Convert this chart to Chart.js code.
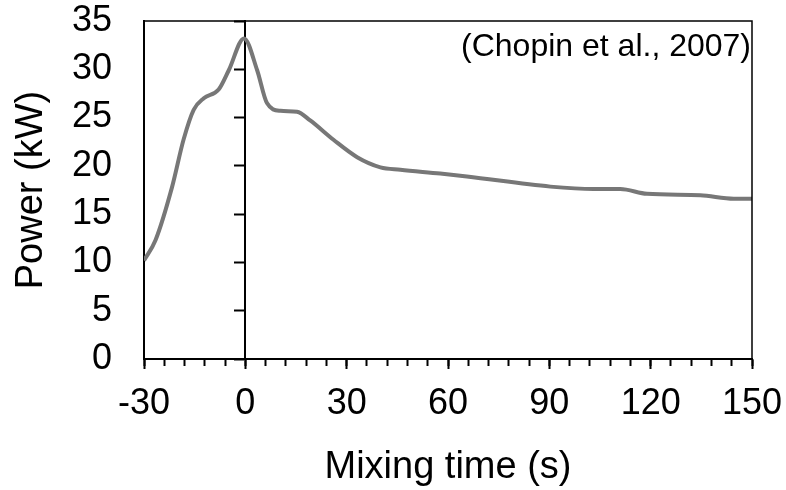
<!DOCTYPE html>
<html>
<head>
<meta charset="utf-8">
<script src="https://cdn.jsdelivr.net/npm/chart.js@4/dist/chart.umd.min.js"></script>
<style>
  body { margin: 0; background: #fff; }
  #wrap { width: 786px; height: 490px; }
</style>
</head>
<body>
<div id="wrap"><canvas id="powerChart"></canvas></div>
<script>
// 混合時間(s)と動力(kW)  図から読み取った値
var mixTime = [-30, -26.6, -21.7, -18.3, -15.3, -12.3, -7.9, -4.9, -0.4, 3.5, 6.4, 10.4, 15.3, 19.2, 26.1, 33.1, 40, 45.9, 57.7, 65.6, 90.3, 103.1, 111, 118.9, 134.7, 144.6, 150];
var power = [10.2, 12.3, 17.8, 22.7, 25.8, 27.0, 27.9, 29.9, 33.2, 29.9, 26.5, 25.7, 25.6, 24.7, 22.7, 20.9, 19.85, 19.6, 19.2, 18.9, 17.85, 17.6, 17.6, 17.1, 16.95, 16.6, 16.6];

// 軸の設定
var xMin = -30, xMax = 150, xStep = 30, xMinorStep = 6;
var yMin = 0, yMax = 35, yStep = 5;
var xTitle = "Mixing time (s)";
var yTitle = "Power (kW)";
var citation = "(Chopin et al., 2007)";

var fontName = "'Liberation Sans', Arial, sans-serif";
Chart.defaults.font.family = fontName;
Chart.defaults.color = "#000";

var points = [];
for (var i = 0; i < mixTime.length; i++) {
    points.push({x: mixTime[i], y: power[i]});
}

// 上と右の枠線、引用の文字
var framePlugin = {
    id: "frame",
    afterDraw: function(chart) {
        var ctx = chart.ctx;
        var a = chart.chartArea;
        ctx.save();
        ctx.strokeStyle = "#000";
        ctx.lineWidth = 1.5;
        ctx.beginPath();
        ctx.moveTo(a.left, a.top);
        ctx.lineTo(a.right, a.top);
        ctx.lineTo(a.right, a.bottom);
        ctx.stroke();
        ctx.fillStyle = "#000";
        ctx.font = "32px " + fontName;
        ctx.textAlign = "right";
        ctx.textBaseline = "alphabetic";
        ctx.fillText(citation, a.right - 1, a.top + 35);
        ctx.restore();
    }
};

var ctx = document.getElementById("powerChart");
var chart = new Chart(ctx, {
    type: "line",
    data: {
        datasets: [{
            data: points,
            xAxisID: "x",
            yAxisID: "y",
            borderColor: "#777777",
            borderWidth: 4,
            pointRadius: 0,
            fill: false,
            cubicInterpolationMode: "monotone"
        }]
    },
    options: {
        responsive: true,
        maintainAspectRatio: false,
        animation: false,
        layout: { padding: { top: 21, right: 34, left: 0, bottom: 0 } },
        plugins: {
            legend: { display: false },
            tooltip: { enabled: false }
        },
        scales: {
            x: {
                type: "linear",
                position: "bottom",
                min: xMin, max: xMax,
                afterFit: function(s) { s.height = 131; s.paddingLeft = 0; s.paddingRight = 0; },
                ticks: { stepSize: xStep, font: { size: 36 }, padding: 13, maxRotation: 0, autoSkip: false },
                grid: { drawOnChartArea: false, tickLength: 10, tickColor: "#000", tickWidth: 2 },
                border: { display: true, color: "#000", width: 2 },
                title: { display: true, text: xTitle, font: { size: 38 }, padding: 0 }
            },
            y: {
                type: "linear",
                position: "left",
                min: yMin, max: yMax,
                afterFit: function(s) { s.width = 144; s.paddingTop = 0; s.paddingBottom = 0; },
                ticks: { stepSize: yStep, font: { size: 36 }, padding: 32, autoSkip: false },
                grid: { drawOnChartArea: false, drawTicks: false },
                border: { display: true, color: "#000", width: 2 },
                title: { display: true, text: yTitle, font: { size: 38 }, padding: { top: 9, bottom: 0 } }
            },
            // 0秒の縦軸（目盛りのみ）
            y2: {
                type: "linear",
                position: { x: 0 },
                min: yMin, max: yMax,
                afterFit: function(s) { s.paddingTop = 0; s.paddingBottom = 0; },
                ticks: { stepSize: yStep, display: false, autoSkip: false },
                grid: { drawOnChartArea: false, tickLength: 10, tickColor: "#000", tickWidth: 2 },
                border: { display: true, color: "#000", width: 2 }
            },
            // 補助目盛り
            x2: {
                type: "linear",
                position: { y: 0 },
                min: xMin, max: xMax,
                afterFit: function(s) { s.paddingLeft = 0; s.paddingRight = 0; },
                ticks: { stepSize: xMinorStep, display: false, autoSkip: false, maxTicksLimit: 100 },
                grid: { drawOnChartArea: false, tickLength: 7, tickColor: "#000", tickWidth: 2 },
                border: { display: false }
            }
        }
    },
    plugins: [framePlugin]
});
</script>
</body>
</html>
